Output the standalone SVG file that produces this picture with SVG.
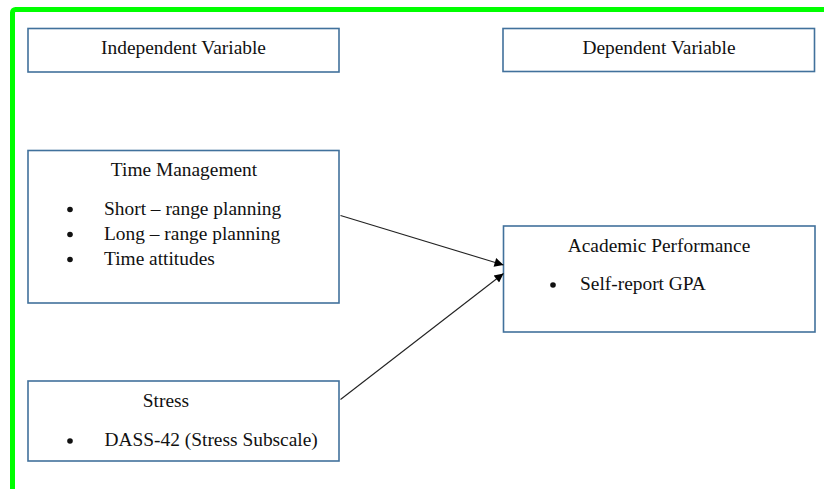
<svg xmlns="http://www.w3.org/2000/svg" width="824" height="489" viewBox="0 0 824 489">
  <defs>
    <style>
      .frame { fill: none; stroke: #00ff00; stroke-width: 5; }
      .box { fill: #ffffff; stroke: #41719c; stroke-width: 1.6; }
      .lbl { font-family: "Liberation Serif", "Times New Roman", serif; font-size: 19.4px; fill: #111111; }
      .mid { text-anchor: middle; }
      .dot { fill: #111111; }
      .conn { stroke: #222222; stroke-width: 1.1; fill: none; marker-end: url(#arrow); }
    </style>
    <marker id="arrow" viewBox="0 0 10 10" refX="10" refY="5" markerWidth="11" markerHeight="9" markerUnits="userSpaceOnUse" orient="auto">
      <path d="M0,0 L10,5 L0,10 z" fill="#000000"/>
    </marker>
  </defs>

  <!-- outer frame -->
  <rect class="frame" x="12.5" y="9.5" width="830" height="500" rx="3"/>

  <g id="independent-variable">
    <rect class="box" x="28" y="28.5" width="311" height="43.5"/>
    <text class="lbl mid" x="183.5" y="54">Independent Variable</text>
  </g>

  <g id="dependent-variable">
    <rect class="box" x="503" y="28.5" width="311.5" height="43"/>
    <text class="lbl mid" x="659" y="54">Dependent Variable</text>
  </g>

  <g id="time-management">
    <rect class="box" x="28" y="150.5" width="311" height="152.5"/>
    <text class="lbl mid" x="184" y="175.5">Time Management</text>
    <circle class="dot" cx="70" cy="209.5" r="2.8"/>
    <text class="lbl" x="104" y="214.5">Short – range planning</text>
    <circle class="dot" cx="70" cy="234.5" r="2.8"/>
    <text class="lbl" x="104" y="239.5">Long – range planning</text>
    <circle class="dot" cx="70" cy="259.5" r="2.8"/>
    <text class="lbl" x="104" y="264.5">Time attitudes</text>
  </g>

  <g id="academic-performance">
    <rect class="box" x="503.5" y="226" width="311.5" height="106"/>
    <text class="lbl mid" x="659" y="251.5">Academic Performance</text>
    <circle class="dot" cx="553" cy="285" r="2.8"/>
    <text class="lbl" x="580" y="290">Self-report GPA</text>
  </g>

  <g id="stress">
    <rect class="box" x="28" y="381" width="311" height="80"/>
    <text class="lbl mid" x="166" y="406.5">Stress</text>
    <circle class="dot" cx="70" cy="441" r="2.8"/>
    <text class="lbl" x="104.5" y="446">DASS-42 (Stress Subscale)</text>
  </g>

  <g id="connectors">
    <line class="conn" x1="340.5" y1="215.5" x2="503.5" y2="265"/>
    <line class="conn" x1="340.5" y1="399.5" x2="503.5" y2="273.5"/>
  </g>
</svg>
